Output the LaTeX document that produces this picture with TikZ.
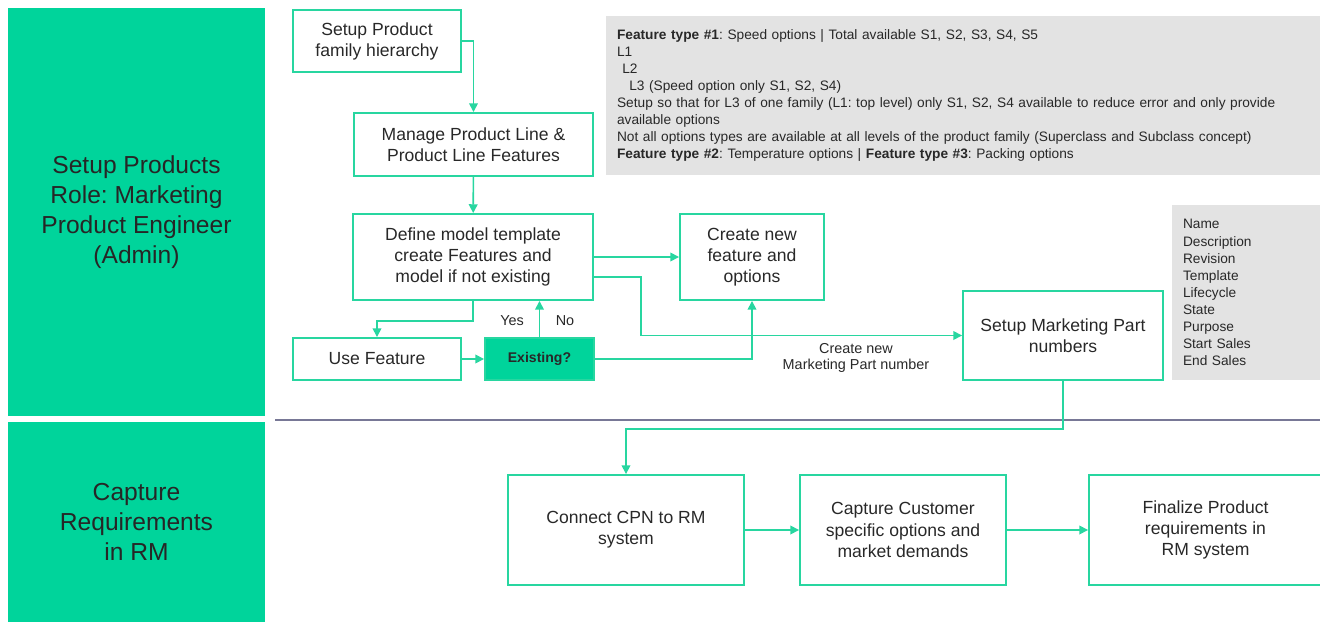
\documentclass[tikz,border=0pt]{standalone}
\usepackage{fontspec}
\setmainfont{Liberation Sans}
\frenchspacing
\usetikzlibrary{arrows.meta, positioning, calc}
\definecolor{mint}{RGB}{0,212,155}
\definecolor{linegreen}{RGB}{40,214,160}
\definecolor{panelgray}{RGB}{227,227,227}
\definecolor{txtgray}{RGB}{40,40,40}
\definecolor{sepline}{RGB}{120,120,150}

\begin{document}
\begin{tikzpicture}[x=0.02cm, y=-0.02cm,
  every node/.style={font=\fontsize{10}{12}\selectfont, text=txtgray},
  stepbox/.style={draw=linegreen, line width=1.1pt, align=center, inner sep=2pt},
  lane/.style={fill=mint, align=center, text=black!85, font=\fontsize{14}{17}\selectfont},
  note/.style={fill=panelgray, align=left, inner xsep=0.22cm, font=\fontsize{7.8}{9.7}\selectfont},
  small/.style={font=\fontsize{8.2}{9}\selectfont},
  flow/.style={draw=linegreen, line width=0.9pt, -{Triangle[length=5pt,width=5pt]}}]
\useasboundingbox (0,0) rectangle (1320,622);

\node[lane, minimum width=5.14cm, minimum height=8.16cm] (lane1) at (136.5,212)
  {Setup Products\\Role: Marketing\\Product Engineer\\(Admin)};
\node[lane, minimum width=5.14cm, minimum height=4cm] (lane2) at (136.5,522)
  {Capture\\Requirements\\in RM};
\draw[sepline, line width=1.2pt] (275,420) -- (1320,420);

\node[stepbox, minimum width=3.36cm, minimum height=1.24cm] (fam) at (377,41) {Setup Product\\family hierarchy};
\node[stepbox, minimum width=4.78cm, minimum height=1.26cm] (line) at (473.5,144.5) {Manage Product Line \&\\Product Line Features};
\node[stepbox, minimum width=4.8cm, minimum height=1.72cm] (tmpl) at (473,257) {Define model template\\create Features and\\model if not existing};
\node[stepbox, minimum width=2.88cm, minimum height=1.72cm] (newft) at (752,257) {Create new\\feature and\\options};
\node[stepbox, minimum width=3.36cm, minimum height=0.84cm] (use) at (377,359) {Use Feature};
\node[stepbox, fill=mint, minimum width=2.18cm, minimum height=0.84cm,
      font=\bfseries\fontsize{8}{9}\selectfont] (exist) at (539.5,359) {Existing?};
\node[stepbox, minimum width=4cm, minimum height=1.78cm] (mpn) at (1063,335.5) {Setup Marketing Part\\numbers};
\node[stepbox, minimum width=4.72cm, minimum height=2.2cm] (cpn) at (626,530) {Connect CPN to RM\\system};
\node[stepbox, minimum width=4.12cm, minimum height=2.2cm] (cust) at (903,530) {Capture Customer\\specific options and\\market demands};
\node[stepbox, minimum width=4.66cm, minimum height=2.2cm] (fin) at (1205.5,530) {Finalize Product\\requirements in\\RM system};

\node[note, minimum width=14.28cm, minimum height=3.18cm, text width=13.84cm] (types) at (963,95.5)
  {\textbf{Feature type \#1}: Speed options | Total available S1, S2, S3, S4, S5\\
   L1\\
   \hspace*{3pt}L2\\
   \hspace*{7pt}L3 (Speed option only S1, S2, S4)\\
   Setup so that for L3 of one family (L1: top level) only S1, S2, S4 available to reduce error and only provide\\
   available options\\
   Not all options types are available at all levels of the product family (Superclass and Subclass concept)\\
   \textbf{Feature type \#2}: Temperature options | \textbf{Feature type \#3}: Packing options};
\node[note, minimum width=2.96cm, minimum height=3.5cm, text width=2.52cm] (attrs) at (1246,292.5)
  {Name\\Description\\Revision\\Template\\Lifecycle\\State\\Purpose\\Start Sales\\End Sales};

\node[small] (yes) at (512,321) {Yes};
\node[small] (no) at (565,321) {No};
\node[small, align=center] (mpnlbl) at (856,358) {Create new\\Marketing Part number};

\draw[flow] (fam.east) -| (line.north);
\draw[flow] (line) -- (tmpl);
\draw[flow] (tmpl) -- (newft);
\draw[flow] ([yshift=-0.4cm]tmpl.east) -- ++(47,0) |- (mpn.west);
\draw[flow] (exist.east) -| (newft.south);
\draw[flow] (exist.north) -- (exist.north |- tmpl.south);
\draw[flow] (tmpl.south) -- ++(0,20) -| (use.north);
\draw[flow] (use) -- (exist);
\draw[flow] (mpn.south) -- ++(0,48) -| (cpn.north);
\draw[flow] (cpn) -- (cust);
\draw[flow] (cust) -- (fin);
\end{tikzpicture}
\end{document}
